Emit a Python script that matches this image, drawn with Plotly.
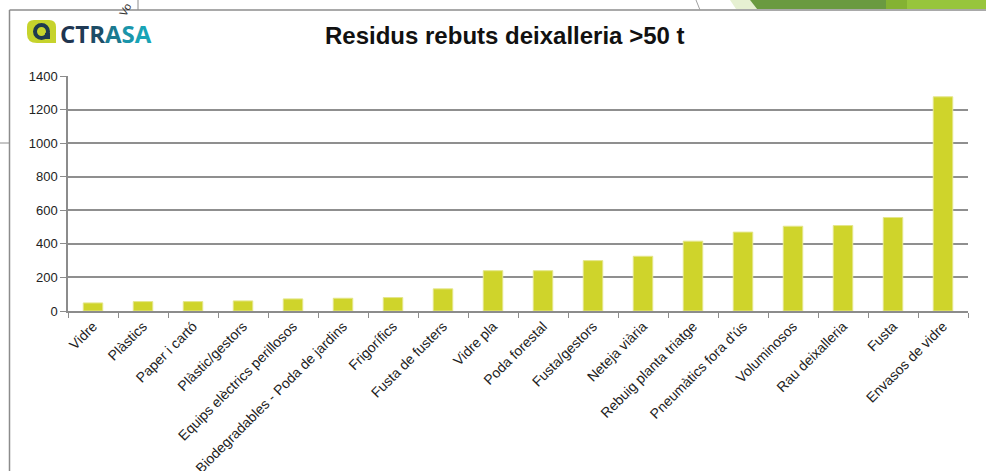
import plotly.graph_objects as go

categories = ["Vidre", "Plàstics", "Paper i cartó", "Plàstic/gestors",
              "Equips elèctrics perillosos", "Biodegradables - Poda de jardins",
              "Frigorífics", "Fusta de fusters", "Vidre pla", "Poda forestal",
              "Fusta/gestors", "Neteja viària", "Rebuig planta triatge",
              "Pneumàtics fora d'ús", "Voluminosos", "Rau deixalleria",
              "Fusta", "Envasos de vidre"]
values = [48, 56, 56, 60, 72, 76, 80, 132, 240, 240,
          300, 326, 416, 470, 505, 509, 557, 1276]
y_ticks = [0, 200, 400, 600, 800, 1000, 1200, 1400]

W, H = 986, 471
L, R, T, B = 68, 18, 76, 160
PW, PH = W - L - R, H - T - B


def px(x):
    return (x - L) / PW


def py(y):
    return (H - B - y) / PH


fig = go.Figure()
fig.add_trace(go.Bar(
    x=categories, y=values,
    marker=dict(color="#cfd42b", line=dict(color="#e4e68a", width=1)),
    width=0.39,
))

shapes = []
gray = "#8c8c8c"
# slide frame lines
shapes.append(dict(type="line", xref="paper", yref="paper",
                   x0=px(9.5), x1=px(986), y0=py(10), y1=py(10),
                   line=dict(color=gray, width=1.5)))
shapes.append(dict(type="line", xref="paper", yref="paper",
                   x0=px(9.5), x1=px(9.5), y0=py(10), y1=py(471),
                   line=dict(color=gray, width=1.5)))
shapes.append(dict(type="line", xref="paper", yref="paper",
                   x0=px(138), x1=px(138), y0=py(0), y1=py(10),
                   line=dict(color=gray, width=1)))
shapes.append(dict(type="line", xref="paper", yref="paper",
                   x0=px(0), x1=px(9.5), y0=py(143), y1=py(143),
                   line=dict(color=gray, width=1)))
shapes.append(dict(type="path", xref="paper", yref="paper",
                   path=f"M {px(696)},{py(0)} Q {px(698)},{py(5)} {px(700)},{py(10)}",
                   line=dict(color="#a0a0a0", width=1)))


def poly(pts, color):
    d = "M " + " L ".join(f"{px(a)},{py(b)}" for a, b in pts) + " Z"
    return dict(type="path", xref="paper", yref="paper", path=d,
                fillcolor=color, line=dict(width=0))


# top-right decorative bands
shapes.append(poly([(730, 0), (750, 0), (757, 9), (736, 9)], "#e6f0d2"))
shapes.append(poly([(750, 0), (886, 0), (886, 9), (757, 9)], "#6a9a40"))
shapes.append(poly([(886, 0), (907, 0), (907, 9), (886, 9)], "#84b232"))
shapes.append(poly([(907, 0), (986, 0), (986, 9), (907, 9)], "#97c53c"))

# logo blob
blob = (f"M {px(34)},{py(20)} L {px(49)},{py(20)} Q {px(56)},{py(20)} {px(56)},{py(27)} "
        f"L {px(56)},{py(43)} L {px(37)},{py(43)} Q {px(27)},{py(43)} {px(27)},{py(34)} "
        f"L {px(27)},{py(27)} Q {px(27)},{py(20)} {px(34)},{py(20)} Z")
shapes.append(dict(type="path", xref="paper", yref="paper", path=blob,
                   fillcolor="#c6d32c", line=dict(width=0)))
shapes.append(dict(type="circle", xref="paper", yref="paper",
                   x0=px(35), x1=px(48), y0=py(25), y1=py(38),
                   fillcolor="rgba(0,0,0,0)", line=dict(color="#1f3a4f", width=4)))
shapes.append(poly([(45, 33), (50, 33), (50, 39), (45, 39)], "#1f3a4f"))

annotations = [
    dict(text="<b>Residus rebuts deixalleria >50 t</b>", xref="paper", yref="paper",
         x=px(505), y=py(35), xanchor="center", yanchor="middle", showarrow=False,
         font=dict(family="Liberation Sans, Arial", size=24, color="#111111")),
    dict(text=("<b><span style='color:#1f3550'>C</span><span style='color:#1f3a55'>T</span>"
               "<span style='color:#1d4d66'>R</span><span style='color:#1b7a90'>A</span>"
               "<span style='color:#1a95aa'>S</span><span style='color:#18a4b6'>A</span></b>"),
         xref="paper", yref="paper", x=px(58), y=py(33), xanchor="left", yanchor="middle",
         showarrow=False, font=dict(family="Open Sans, Arial", size=24, color="#1f3550")),
    dict(text="Vo", xref="paper", yref="paper", x=px(125), y=py(10), xanchor="center",
         yanchor="middle", showarrow=False, textangle=-60,
         font=dict(family="Liberation Sans, Arial", size=11, color="#333333")),
]

fig.update_layout(
    width=W, height=H,
    margin=dict(l=L, r=R, t=T, b=B, autoexpand=False),
    paper_bgcolor="white", plot_bgcolor="white",
    showlegend=False,
    shapes=shapes, annotations=annotations,
    font=dict(family="Liberation Sans, Arial", size=13, color="#222222"),
    xaxis=dict(type="category", tickson="boundaries", ticks="outside", ticklen=5,
               tickcolor=gray, showline=True, linecolor=gray, linewidth=1.5,
               showgrid=False, tickangle=-45, tickfont=dict(size=14, color="#222222")),
    yaxis=dict(range=[0, 1400], tickvals=y_ticks, ticks="outside", ticklen=6,
               tickcolor=gray, showline=True, linecolor=gray, linewidth=1.5,
               showgrid=True, gridcolor="#8f8f8f", gridwidth=1.5, zeroline=False,
               tickfont=dict(size=13, color="#222222")),
)

fig.write_html("out.html", config={"displayModeBar": False},
               post_script="document.body.style.margin='0';")
